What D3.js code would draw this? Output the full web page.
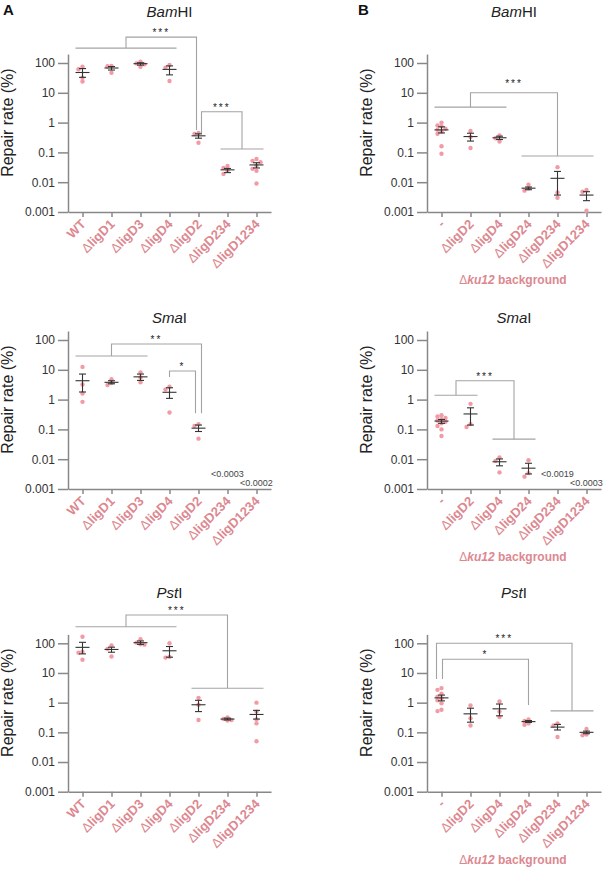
<!DOCTYPE html>
<html>
<head>
<meta charset="utf-8">
<script src="https://cdn.jsdelivr.net/npm/d3@7"></script>
<style>
  body { margin: 0; background: #fff; }
  svg { font-family: "Liberation Sans", Arial, sans-serif; }
</style>
</head>
<body>
<svg id="fig" width="603" height="870"></svg>
<script>
// ---- categories and ticks ----
const catsA = ["WT", "ΔligD1", "ΔligD3", "ΔligD4", "ΔligD2", "ΔligD234", "ΔligD1234"];
const catsB = ["-", "ΔligD2", "ΔligD4", "ΔligD24", "ΔligD234", "ΔligD1234"];
const yTicks = [0.001, 0.01, 0.1, 1, 10, 100];

// ---- BamHI, wild type background ----
const bamA_points = [[75, 62, 32, 24], [80, 78, 47], [110, 97, 90, 75], [86, 70, 25],
  [0.45, 0.42, 0.21], [0.035, 0.03, 0.024, 0.019], [0.06, 0.052, 0.047, 0.036, 0.028, 0.024, 0.009]];
const bamA_mean = [48, 68, 95, 61, 0.36, 0.026, 0.038];
const bamA_low  = [33, 58, 85, 40, 0.3, 0.021, 0.03];
const bamA_high = [65, 76, 102, 80, 0.42, 0.029, 0.045];

// ---- BamHI, ku12 background ----
const bamB_points = [[1.0, 0.8, 0.75, 0.62, 0.57, 0.5, 0.42, 0.16, 0.09], [0.52, 0.33, 0.14],
  [0.37, 0.3, 0.23], [0.0082, 0.0062, 0.0052], [0.032, 0.0045, 0.003], [0.0055, 0.0048, 0.0011]];
const bamB_mean = [0.57, 0.34, 0.31, 0.0063, 0.0135, 0.0037];
const bamB_low  = [0.45, 0.24, 0.27, 0.0056, 0.0037, 0.0024];
const bamB_high = [0.72, 0.44, 0.35, 0.0069, 0.023, 0.0048];

// ---- SmaI, wild type background (last two below detection) ----
const smaA_points = [[12.5, 3.2, 1.6, 0.84], [4.8, 3.6, 3.1], [8.2, 5.5, 3.8], [2.7, 2.2, 0.37],
  [0.15, 0.13, 0.049], [], []];
const smaA_mean = [4.3, 3.8, 5.8, 1.76, 0.11, null, null];
const smaA_low  = [1.8, 3.4, 4.4, 1.1, 0.085, null, null];
const smaA_high = [7.2, 4.3, 7.2, 2.5, 0.14, null, null];

// ---- SmaI, ku12 background ----
const smaB_points = [[0.3, 0.27, 0.24, 0.22, 0.2, 0.18, 0.16, 0.13, 0.1, 0.06], [0.72, 0.15, 0.12],
  [0.0115, 0.0088, 0.0036], [0.0092, 0.0034, 0.0026], [], []];
const smaB_mean = [0.19, 0.33, 0.0082, 0.005, null, null];
const smaB_low  = [0.16, 0.14, 0.006, 0.0032, null, null];
const smaB_high = [0.215, 0.53, 0.0102, 0.0073, null, null];

// ---- PstI, wild type background ----
const pstA_points = [[167, 52, 48, 28], [85, 65, 36], [138, 105, 93, 90], [100, 35, 33],
  [1.45, 0.85, 0.26], [0.32, 0.28, 0.26, 0.25], [1.0, 0.5, 0.27, 0.2, 0.05]];
const pstA_mean = [73, 62, 105, 56, 0.85, 0.28, 0.4];
const pstA_low  = [44, 50, 92, 34, 0.5, 0.26, 0.28];
const pstA_high = [108, 74, 120, 78, 1.2, 0.3, 0.55];

// ---- PstI, ku12 background ----
const pstB_points = [[3.1, 2.7, 2.0, 1.6, 1.4, 1.2, 0.95, 0.58, 0.52], [0.8, 0.3, 0.17],
  [1.1, 0.5, 0.33], [0.27, 0.24, 0.2, 0.18], [0.2, 0.17, 0.07], [0.13, 0.085, 0.08]];
const pstB_mean = [1.45, 0.42, 0.62, 0.23, 0.15, 0.1];
const pstB_low  = [1.15, 0.22, 0.36, 0.215, 0.12, 0.09];
const pstB_high = [1.8, 0.65, 0.9, 0.25, 0.185, 0.11];

// ---- significance brackets (category index, value on y) ----
const bamA_brackets = [
  {left: {span: [0, 3], at: 316}, right: {cat: 4, dx: -2, at: 0.56}, top: 740, label: "***"},
  {left: {cat: 4, dx: 3, at: 0.45}, right: {span: [5, 6], at: 0.13}, top: 2.3, label: "***"}
];
const bamB_brackets = [
  {left: {span: [0, 2], at: 3.3}, right: {span: [3, 5], at: 0.076}, top: 10, label: "***", dy: -5}
];
const smaA_brackets = [
  {left: {span: [0, 2], at: 29}, right: {cat: 4, dx: 3, at: 0.35}, top: 73, label: "**"},
  {left: {cat: 3, dx: 0, at: 5.7}, right: {cat: 4, dx: -3, at: 0.35}, top: 9.1, label: "*"}
];
const smaB_brackets = [
  {left: {span: [0, 1], at: 1.4}, right: {span: [2, 3], at: 0.047}, top: 4.3, label: "***"}
];
const pstA_brackets = [
  {left: {span: [0, 3], at: 362}, right: {span: [4, 6], at: 3.05}, top: 897, label: "***"}
];
const pstB_brackets = [
  {left: {cat: 0, dx: -5, at: 6.3}, right: {span: [4, 5], at: 0.53}, top: 100, label: "***"},
  {left: {cat: 0, dx: 1, at: 6.3}, right: {cat: 3, dx: 0, at: 0.84}, top: 29, label: "*"}
];

// below-detection notes
const smaA_notes = [{cat: 5, text: "<0.0003", dy: -12}, {cat: 6, text: "<0.0002", dy: -3}];
const smaB_notes = [{cat: 4, text: "<0.0019", dy: -12}, {cat: 5, text: "<0.0003", dy: -3}];

// ---- layout ----
const dotColor = "#f29ba4";
const labelColor = "#dc8890";
const panels = [
  {letter: "A", lx: 3, cats: catsA, x0: 68, y100: 63, y0: 212, title: ["Bam", "HI"], titleY: 17,
   pts: bamA_points, mean: bamA_mean, lo: bamA_low, hi: bamA_high, brackets: bamA_brackets, notes: []},
  {letter: "B", lx: 358, cats: catsB, x0: 427, y100: 63, y0: 212, title: ["Bam", "HI"], titleY: 17,
   pts: bamB_points, mean: bamB_mean, lo: bamB_low, hi: bamB_high, brackets: bamB_brackets, notes: [], ku: true},
  {cats: catsA, x0: 68, y100: 340, y0: 489, title: ["Sma", "I"], titleY: 323,
   pts: smaA_points, mean: smaA_mean, lo: smaA_low, hi: smaA_high, brackets: smaA_brackets, notes: smaA_notes},
  {cats: catsB, x0: 427, y100: 340, y0: 489, title: ["Sma", "I"], titleY: 323,
   pts: smaB_points, mean: smaB_mean, lo: smaB_low, hi: smaB_high, brackets: smaB_brackets, notes: smaB_notes, ku: true},
  {cats: catsA, x0: 68, y100: 643.3, y0: 791.7, title: ["Pst", "I"], titleY: 598,
   pts: pstA_points, mean: pstA_mean, lo: pstA_low, hi: pstA_high, brackets: pstA_brackets, notes: []},
  {cats: catsB, x0: 427, y100: 643.3, y0: 791.7, title: ["Pst", "I"], titleY: 598,
   pts: pstB_points, mean: pstB_mean, lo: pstB_low, hi: pstB_high, brackets: pstB_brackets, notes: [], ku: true}
];
const step = 29;
const svg = d3.select("#fig");

panels.forEach(p => {
  const g = svg.append("g");
  const w = p.cats.length * step;
  const x = d3.scalePoint().domain(p.cats).range([p.x0, p.x0 + w]).padding(0.5);
  const y = d3.scaleLog().domain([0.001, 100]).range([p.y0, p.y100]);
  const yAx = y.copy().domain([0.001, 200]).range([p.y0, y(200)]);

  // panel letter
  if (p.letter) {
    g.append("text").attr("x", p.lx).attr("y", 15)
      .attr("font-size", 15).attr("font-weight", "bold").attr("fill", "#111").text(p.letter);
  }

  // title
  const t = g.append("text").attr("x", p.x0 + w / 2).attr("y", p.titleY)
    .attr("text-anchor", "middle").attr("font-size", 15).attr("fill", "#222");
  t.append("tspan").attr("font-style", "italic").text(p.title[0]);
  t.append("tspan").text(p.title[1]);

  // y axis
  const ya = g.append("g").attr("transform", `translate(${p.x0},0)`)
    .call(d3.axisLeft(yAx).tickValues(yTicks).tickSize(10).tickSizeOuter(0).tickPadding(3)
      .tickFormat(d => String(d)));
  ya.selectAll("text").attr("font-size", 12).attr("fill", "#333").attr("font-family", null);
  ya.selectAll("path,line").attr("stroke", "#888").attr("stroke-width", 1.5);

  g.append("text")
    .attr("transform", `translate(${p.x0 - 55},${y(1)}) rotate(-90)`)
    .attr("text-anchor", "middle").attr("font-size", 16).attr("fill", "#222")
    .text("Repair rate (%)");

  // x axis
  const xa = g.append("g").attr("transform", `translate(0,${p.y0})`)
    .call(d3.axisBottom(x).tickSize(5).tickSizeOuter(0).tickFormat(""));
  xa.selectAll("path,line").attr("stroke", "#888").attr("stroke-width", 1.5);

  p.cats.forEach(c => {
    const lt = g.append("text")
      .attr("transform", `translate(${x(c) + 4},${p.y0 + 13}) rotate(-45)`)
      .attr("text-anchor", "end").attr("font-size", 13).attr("font-weight", "bold")
      .attr("fill", labelColor);
    if (c[0] === "Δ") {
      lt.append("tspan").attr("font-weight", "normal").text("Δ");
      lt.append("tspan").text(c.slice(1));
    } else lt.text(c);
  });

  if (p.ku) {
    const kt = g.append("text").attr("x", p.x0 + w / 2 - 1).attr("y", p.y0 + 72)
      .attr("text-anchor", "middle").attr("font-size", 12).attr("font-weight", "bold")
      .attr("fill", labelColor);
    kt.append("tspan").attr("font-weight", "normal").text("Δ");
    kt.append("tspan").attr("font-style", "italic").text("ku12");
    kt.append("tspan").text(" background");
  }

  // dots, compact beeswarm
  const r = 2.2;
  const slots = [0, -4, 4, -7, 7];
  p.cats.forEach((c, i) => {
    const placed = [];
    p.pts[i].forEach(v => {
      const py = y(v);
      let dx = 0;
      for (const s of slots) {
        if (placed.every(q => Math.hypot(q[0] - s, q[1] - py) >= 3.6)) { dx = s; break; }
      }
      placed.push([dx, py]);
    });
    g.selectAll(null).data(placed).enter().append("circle")
      .attr("cx", d => x(c) + d[0]).attr("cy", d => d[1]).attr("r", r).attr("fill", dotColor);
  });

  // mean +/- error
  p.cats.forEach((c, i) => {
    if (p.mean[i] == null) return;
    const cx = x(c);
    const eg = g.append("g").attr("stroke", "#333").attr("stroke-width", 1.1).attr("fill", "none");
    eg.append("line").attr("x1", cx - 7).attr("x2", cx + 7).attr("y1", y(p.mean[i])).attr("y2", y(p.mean[i]));
    eg.append("line").attr("x1", cx).attr("x2", cx).attr("y1", y(p.lo[i])).attr("y2", y(p.hi[i]));
    [p.lo[i], p.hi[i]].forEach(v => {
      eg.append("line").attr("x1", cx - 3.5).attr("x2", cx + 3.5).attr("y1", y(v)).attr("y2", y(v));
    });
  });

  // brackets
  p.brackets.forEach(b => {
    const side = s => {
      if (s.span) {
        const xa1 = x(p.cats[s.span[0]]), xb1 = x(p.cats[s.span[1]]);
        g.append("line").attr("x1", xa1 - 7).attr("x2", xb1 + 7)
          .attr("y1", y(s.at)).attr("y2", y(s.at)).attr("stroke", "#a3a3a3").attr("stroke-width", 1.1);
        return [(xa1 + xb1) / 2, y(s.at)];
      }
      return [x(p.cats[s.cat]) + (s.dx || 0), y(s.at)];
    };
    const L = side(b.left), R = side(b.right), yt = y(b.top);
    g.append("path").attr("d", d3.line()([L, [L[0], yt], [R[0], yt], R]))
      .attr("fill", "none").attr("stroke", "#a3a3a3").attr("stroke-width", 1.1);
    g.append("text").attr("x", (L[0] + R[0]) / 2).attr("y", yt - 1 + (b.dy || 0))
      .attr("text-anchor", "middle").attr("font-size", 10).attr("letter-spacing", 2)
      .attr("fill", "#222").text(b.label);
  });

  // notes
  p.notes.forEach(n => {
    g.append("text").attr("x", x(p.cats[n.cat])).attr("y", p.y0 + n.dy)
      .attr("text-anchor", "middle").attr("font-size", 9).attr("fill", "#444").text(n.text);
  });
});
</script>
</body>
</html>
